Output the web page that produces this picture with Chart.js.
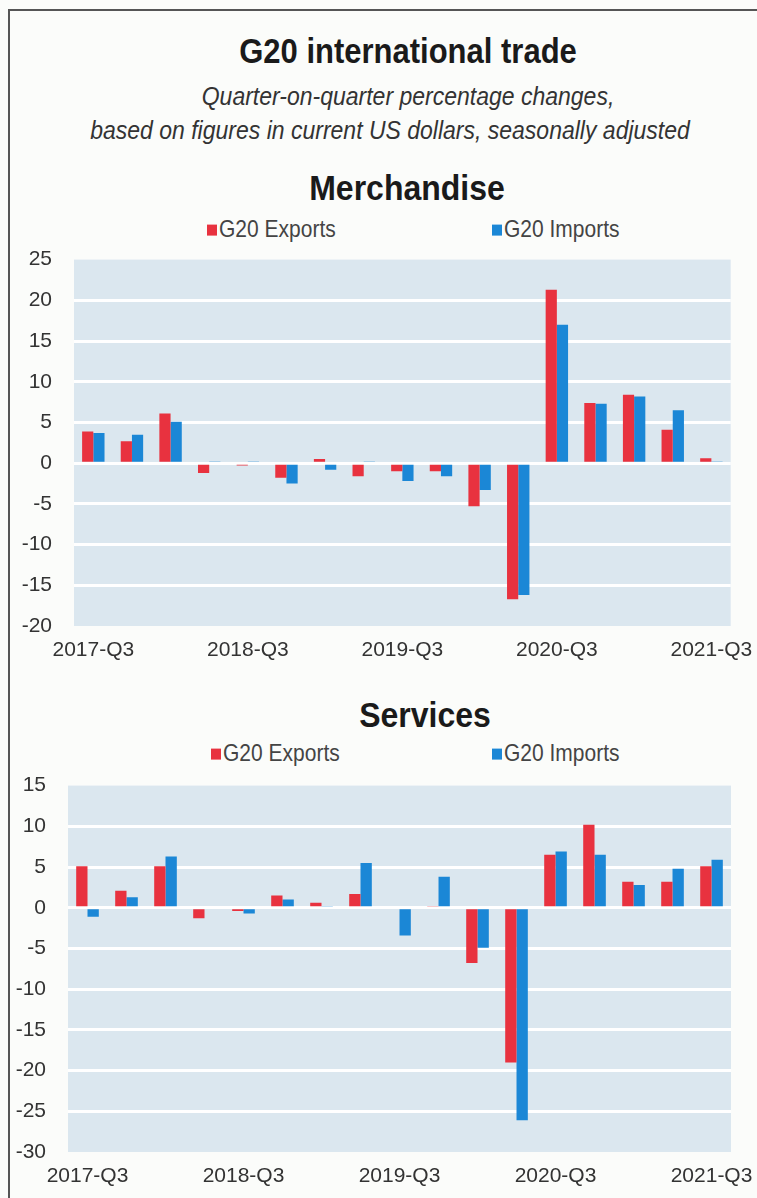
<!DOCTYPE html>
<html>
<head>
<meta charset="utf-8">
<title>G20 international trade</title>
<script src="https://cdn.jsdelivr.net/npm/chart.js@4"></script>
<style>
  html, body { margin: 0; overflow: hidden; }
  body { background: #fbfcfa; width: 757px; height: 1198px; position: relative;
         font-family: 'Liberation Sans', Arial, sans-serif; color: #222; }
  .frame { position: absolute; left: 8px; top: 9px; width: 800px; height: 1250px;
           border-left: 2px solid #555; border-top: 2px solid #555; }
  .txt { position: absolute; white-space: nowrap; transform: translateX(-50%) scaleY(1.12); }
  .title { font-weight: bold; font-size: 31px; color: #1a1a1a; }
  .sub { font-style: italic; font-size: 23px; color: #333; }
  .panel { font-weight: bold; font-size: 32px; color: #1a1a1a; }
  .leg { position: absolute; font-size: 21px; color: #444; white-space: nowrap; transform: scaleY(1.1); }
  .leg i { display: inline-block; width: 10px; height: 10px; margin-right: 2px; vertical-align: 1px; }
  canvas { position: absolute; left: 0; }
</style>
</head>
<body>
<div class="frame"></div>

<div class="txt title" style="left:408px; top:34px">G20 international trade</div>
<div class="txt sub" style="left:408px; top:83px">Quarter-on-quarter percentage changes,</div>
<div class="txt sub" style="left:390px; top:117px">based on figures in current US dollars, seasonally adjusted</div>

<div class="txt panel" style="left:407px; top:170px">Merchandise</div>
<div class="leg" style="left:207px; top:217px"><i style="background:#e8323f"></i>G20 Exports</div>
<div class="leg" style="left:492px; top:217px"><i style="background:#1b87d6"></i>G20 Imports</div>
<canvas id="merch" width="757" height="441" style="top:225px"></canvas>

<div class="txt panel" style="left:425px; top:697px">Services</div>
<div class="leg" style="left:211px; top:741px"><i style="background:#e8323f"></i>G20 Exports</div>
<div class="leg" style="left:492px; top:741px"><i style="background:#1b87d6"></i>G20 Imports</div>
<canvas id="serv" width="757" height="441" style="top:751px"></canvas>

<script>
// quarters, 2017-Q3 .. 2021-Q3
const quarters = ['2017-Q3', '2017-Q4', '2018-Q1', '2018-Q2', '2018-Q3', '2018-Q4', '2019-Q1', '2019-Q2',
  '2019-Q3', '2019-Q4', '2020-Q1', '2020-Q2', '2020-Q3', '2020-Q4', '2021-Q1', '2021-Q2', '2021-Q3'];

// merchandise, % change q-o-q
const merchExports = [3.9, 2.7, 6.1, -1.2, -0.3, -1.8, 0.5, -1.6, -1.0, -1.0, -5.3, -16.7, 21.3, 7.4, 8.4, 4.1, 0.6];
const merchImports = [3.7, 3.5, 5.1, 0.2, 0.2, -2.5, -0.8, 0.2, -2.2, -1.6, -3.3, -16.2, 17.0, 7.3, 8.2, 6.5, 0.2];

// services, % change q-o-q
const servExports = [5.1, 2.1, 5.1, -1.3, -0.4, 1.5, 0.6, 1.7, -0.2, 0.2, -6.8, -19.0, 6.5, 10.2, 3.2, 3.2, 5.1];
const servImports = [-1.1, 1.3, 6.3, -0.2, -0.7, 1.0, 0.2, 5.5, -3.4, 3.8, -4.9, -26.1, 6.9, 6.5, 2.8, 4.8, 5.9];

const merchTicks = [-20, 25];
const servTicks = [-30, 15];

const FONT = "'Liberation Sans', Arial, sans-serif";

// light blue fill behind the plot
const plotBg = {
  id: 'plotBg',
  beforeDraw(chart) {
    const a = chart.chartArea;
    chart.ctx.save();
    chart.ctx.fillStyle = '#dbe7ef';
    chart.ctx.fillRect(a.left, a.top, a.right - a.left, a.bottom - a.top);
    chart.ctx.restore();
  }
};

function makeChart(id, exp, imp, range, axisW, padRight) {
  const [lo, hi] = range;
  return new Chart(document.getElementById(id), {
    type: 'bar',
    data: {
      labels: quarters,
      datasets: [
        { label: 'G20 Exports', data: exp, backgroundColor: '#e8323f' },
        { label: 'G20 Imports', data: imp, backgroundColor: '#1b87d6' }
      ]
    },
    options: {
      responsive: false,
      devicePixelRatio: 1,
      animation: false,
      layout: { padding: { top: 14, right: padRight, left: 0, bottom: 0 } },
      datasets: { bar: { categoryPercentage: 0.58, barPercentage: 1 } },
      plugins: { legend: { display: false }, tooltip: { enabled: false } },
      scales: {
        x: {
          grid: { display: false },
          border: { display: false },
          afterFit(s) { s.height = 40; },
          ticks: {
            autoSkip: false, maxRotation: 0, padding: 4, color: '#333',
            font: { family: FONT, size: 21 },
            callback: (v, i) => i % 4 === 0 ? quarters[i] : ''
          }
        },
        y: {
          min: lo, max: hi,
          afterFit(s) { s.width = axisW; },
          border: { display: false },
          grid: {
            drawTicks: false, lineWidth: 3,
            color: c => (c.tick.value === lo || c.tick.value === hi) ? 'rgba(0,0,0,0)' : '#ffffff'
          },
          ticks: { stepSize: 5, padding: 22, color: '#333', font: { family: FONT, size: 21 } }
        }
      }
    },
    plugins: [plotBg]
  });
}

makeChart('merch', merchExports, merchImports, merchTicks, 74, 26);
makeChart('serv', servExports, servImports, servTicks, 68, 21);
</script>
</body>
</html>
